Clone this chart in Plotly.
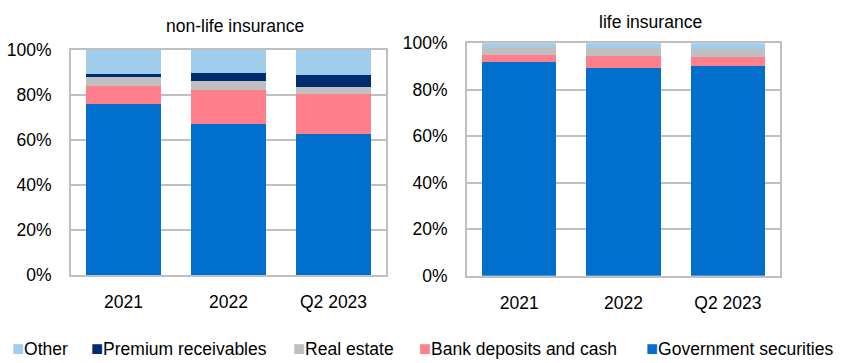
import plotly.graph_objects as go

W, H = 842, 363

periods = ["2021", "2022", "Q2 2023"]

# Shares of investment portfolio (%), non-life insurers
nonlife_gov = [76.1, 67.3, 62.8]
nonlife_bank = [8.0, 15.1, 17.8]
nonlife_realestate = [3.9, 3.8, 3.0]
nonlife_premium = [1.2, 3.4, 5.4]
nonlife_other = [10.8, 10.4, 11.0]

# Shares of investment portfolio (%), life insurers
life_gov = [92.0, 89.5, 90.1]
life_bank = [3.1, 5.2, 4.2]
life_realestate = [3.2, 3.4, 3.3]
life_premium = [0.0, 0.0, 0.0]
life_other = [1.7, 1.9, 2.4]

series_names = ["Government securities", "Bank deposits and cash", "Real estate",
                "Premium receivables", "Other"]
series_colors = ["#0070CC", "#FF808C", "#BFBFBF", "#002D72", "#9FCDEB"]

nonlife = [nonlife_gov, nonlife_bank, nonlife_realestate, nonlife_premium, nonlife_other]
life = [life_gov, life_bank, life_realestate, life_premium, life_other]

FONT = "Liberation Sans, Arial, sans-serif"
FS = 17.5
GRID = "#BFBFBF"

fig = go.Figure()
for name, color, vals in zip(series_names, series_colors, nonlife):
    fig.add_trace(go.Bar(x=periods, y=vals, name=name, marker_color=color,
                         marker_line_width=0, xaxis="x", yaxis="y", showlegend=False))
for name, color, vals in zip(series_names, series_colors, life):
    fig.add_trace(go.Bar(x=periods, y=vals, name=name, marker_color=color,
                         marker_line_width=0, xaxis="x2", yaxis="y2", showlegend=False))


def px_x(p):
    return p / W


def px_y(p):
    return 1 - p / H


axis_common = dict(showline=True, mirror=True, linecolor=GRID, linewidth=2,
                   automargin=False,
                   tickfont=dict(family=FONT, size=FS, color="#000"))
yaxis_common = dict(axis_common, range=[0, 100], dtick=20, ticksuffix="%",
                    showgrid=True, gridcolor=GRID, gridwidth=2, zeroline=False,
                    ticks="", ticklabelstandoff=14)
xaxis_common = dict(axis_common, showgrid=False, ticks="", ticklabelstandoff=10)

fig.update_layout(
    width=W, height=H,
    margin=dict(l=0, r=0, t=0, b=0, pad=0, autoexpand=False),
    paper_bgcolor="white", plot_bgcolor="white",
    barmode="stack", bargap=0.29,
    showlegend=False,
    font=dict(family=FONT, size=FS, color="#000"),
    xaxis=dict(xaxis_common, domain=[px_x(71), px_x(386)], anchor="y"),
    yaxis=dict(yaxis_common, domain=[px_y(275), px_y(50)], anchor="x"),
    xaxis2=dict(xaxis_common, domain=[px_x(467), px_x(780)], anchor="y2"),
    yaxis2=dict(yaxis_common, domain=[px_y(275.7), px_y(43.3)], anchor="x2"),
)

annotations = [
    dict(text="non-life insurance", x=px_x(235), y=px_y(26), xref="paper", yref="paper",
         xanchor="center", yanchor="middle", showarrow=False,
         font=dict(family=FONT, size=FS, color="#000")),
    dict(text="life insurance", x=px_x(650.5), y=px_y(22), xref="paper", yref="paper",
         xanchor="center", yanchor="middle", showarrow=False,
         font=dict(family=FONT, size=FS, color="#000")),
]

# Legend row along the bottom: coloured square followed by the series name
legend_order = [4, 3, 2, 1, 0]
legend_x = [10, 89, 291, 417, 644]
for idx, lx in zip(legend_order, legend_x):
    annotations.append(dict(
        text=(f"<span style='color:{series_colors[idx]};font-size:20px'>■</span>"
              f"{series_names[idx]}"),
        x=px_x(lx), y=px_y(348), xref="paper", yref="paper",
        xanchor="left", yanchor="middle", showarrow=False,
        font=dict(family=FONT, size=FS, color="#000")))

fig.update_layout(annotations=annotations)

fig.write_html("out.html")
